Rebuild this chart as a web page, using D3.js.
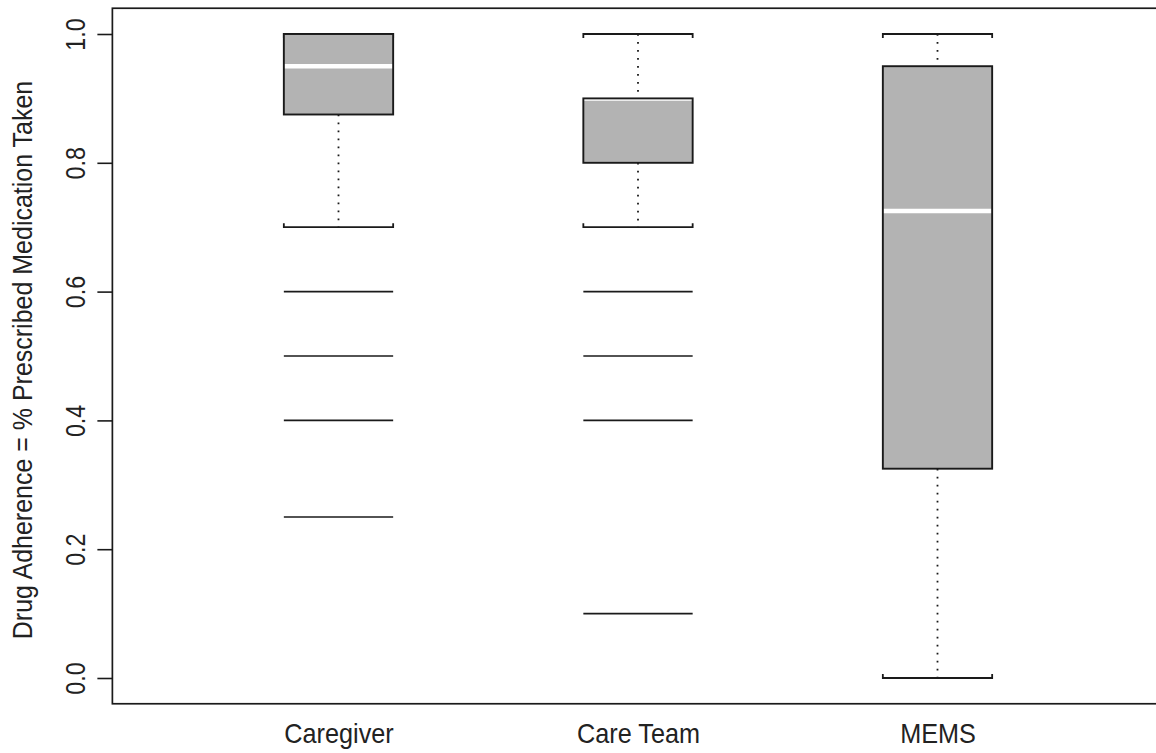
<!DOCTYPE html>
<html>
<head>
<meta charset="utf-8">
<script src="https://cdn.jsdelivr.net/npm/d3@7"></script>
<style>
  html, body { margin: 0; padding: 0; background: #fff; }
  svg { display: block; }
  text { font-family: "Liberation Sans", Arial, sans-serif; fill: #222; }
</style>
</head>
<body>
<svg id="chart" width="1156" height="753"></svg>
<script>
// Adherence measures compared in the boxplot
const categories = ["Caregiver", "Care Team", "MEMS"];
// Five-number summaries: lower whisker, Q1, median, Q3, upper whisker
const lowerWhisker = [0.70, 0.70, 0.00];
const q1 = [0.875, 0.80, 0.325];
const median = [0.95, 0.90, 0.725];
const q3 = [1.00, 0.90, 0.95];
const upperWhisker = [1.00, 1.00, 1.00];
// Values outside the whiskers
const outliers = [
  [0.60, 0.50, 0.40, 0.25],
  [0.60, 0.50, 0.40, 0.10],
  []
];
const yTicks = [0.0, 0.2, 0.4, 0.6, 0.8, 1.0];
const yLabel = "Drug Adherence = % Prescribed Medication Taken";

const svg = d3.select("#chart");

const y = d3.scaleLinear().domain([0, 1]).range([678, 34]);
const x = d3.scaleLinear().domain([1, 3]).range([338.5, 937.5]);
const halfW = 0.1825;           // half box width in group units
const capTick = 4;              // bracket ends on whisker caps
const glyphStretch = 1.12;      // taller, narrower lettering

const frameTop = y(1.04), frameBottom = y(-0.04);
const frameLeft = x(0.245), frameRight = x(3.755);

// plot frame
svg.append("rect")
  .attr("x", frameLeft).attr("y", frameTop)
  .attr("width", frameRight - frameLeft).attr("height", frameBottom - frameTop)
  .attr("fill", "none").attr("stroke", "#1a1a1a").attr("stroke-width", 1.7);

// y axis with rotated labels
const yAxis = svg.append("g")
  .attr("transform", `translate(${frameLeft},0)`)
  .call(d3.axisLeft(y).tickValues(yTicks).tickFormat(d3.format(".1f"))
    .tickSize(15).tickPadding(0));
yAxis.select(".domain").remove();
yAxis.selectAll(".tick line").attr("stroke", "#1a1a1a").attr("stroke-width", 1.6);
yAxis.selectAll(".tick text")
  .attr("x", 0).attr("dy", 0)
  .attr("text-anchor", "middle")
  .attr("transform", `translate(-27,0) rotate(-90) scale(0.97,${glyphStretch})`)
  .style("font-size", "24px");

svg.append("text")
  .attr("transform", `translate(32,${(frameTop + frameBottom) / 2 + 4}) rotate(-90) scale(1.02,${glyphStretch})`)
  .attr("text-anchor", "middle")
  .style("font-size", "24.5px")
  .text(yLabel);

// category labels under each box
const xAxis = svg.append("g")
  .attr("transform", `translate(0,${frameBottom})`)
  .call(d3.axisBottom(x).tickValues([1, 2, 3])
    .tickFormat((d, i) => categories[i]).tickSize(0).tickPadding(0));
xAxis.select(".domain").remove();
xAxis.selectAll(".tick text")
  .attr("y", 0).attr("dy", 0)
  .attr("transform", `translate(0,39) scale(1.03,${glyphStretch})`)
  .style("font-size", "24.5px");

const groups = svg.append("g").selectAll("g")
  .data(categories)
  .join("g");

groups.each(function (name, i) {
  const g = d3.select(this);
  const cx = x(i + 1), xl = x(i + 1 - halfW), xr = x(i + 1 + halfW);

  // dotted whiskers
  const whisk = [[upperWhisker[i], q3[i]], [q1[i], lowerWhisker[i]]];
  whisk.forEach(([a, b]) => {
    if (a === b) return;
    g.append("line")
      .attr("x1", cx).attr("x2", cx)
      .attr("y1", y(a)).attr("y2", y(b))
      .attr("stroke", "#1a1a1a").attr("stroke-width", 1.8)
      .attr("stroke-dasharray", "1.8,6.2");
  });

  // whisker caps, bracket ends pointing toward the box
  [[upperWhisker[i], 1], [lowerWhisker[i], -1]].forEach(([v, dir]) => {
    const yy = y(v);
    g.append("path")
      .attr("d", `M${xl},${yy + dir * capTick}V${yy}H${xr}V${yy + dir * capTick}`)
      .attr("fill", "none").attr("stroke", "#1a1a1a").attr("stroke-width", 1.8);
  });

  // box fill, median, then border on top
  g.append("rect")
    .attr("x", xl).attr("y", y(q3[i]))
    .attr("width", xr - xl).attr("height", y(q1[i]) - y(q3[i]))
    .attr("fill", "#b3b3b3");
  g.append("line")
    .attr("x1", xl).attr("x2", xr)
    .attr("y1", y(median[i])).attr("y2", y(median[i]))
    .attr("stroke", "#ffffff").attr("stroke-width", 4.5);
  g.append("rect")
    .attr("x", xl).attr("y", y(q3[i]))
    .attr("width", xr - xl).attr("height", y(q1[i]) - y(q3[i]))
    .attr("fill", "none").attr("stroke", "#1a1a1a").attr("stroke-width", 1.9);

  // outliers drawn as full-width lines
  g.selectAll("line.out")
    .data(outliers[i])
    .join("line")
    .attr("class", "out")
    .attr("x1", xl).attr("x2", xr)
    .attr("y1", d => y(d)).attr("y2", d => y(d))
    .attr("stroke", "#1a1a1a").attr("stroke-width", 1.7);
});
</script>
</body>
</html>
